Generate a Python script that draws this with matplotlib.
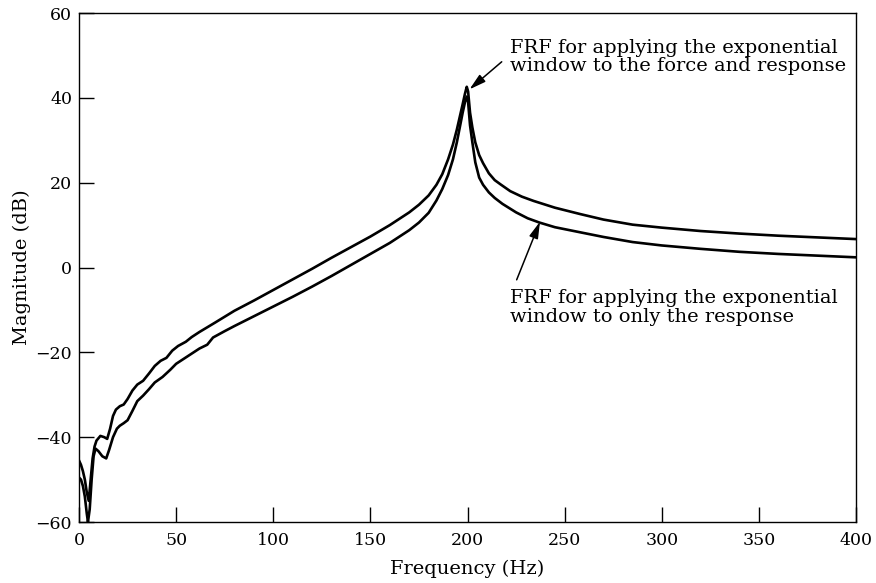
import matplotlib
matplotlib.use("Agg")
import matplotlib.pyplot as plt

# FRF with exponential window on force and response (upper curve)
freq_both = [0, 1, 2, 3, 4, 5, 6, 7, 8, 9, 11, 13, 14.5, 16, 17.5, 19, 21, 23, 25,
             27.5, 30, 33, 36, 39, 42, 45, 48, 51, 55, 58, 62, 66, 70, 75, 80, 90,
             100, 110, 120, 130, 140, 150, 160, 165, 170, 175, 180, 184, 187, 190,
             192.5, 194.5, 196, 197.5, 198.7, 199.6, 200.3, 201.3, 202.5, 204, 206,
             208, 211, 214, 217, 222, 228, 234, 245, 258, 270, 285, 300, 320, 340,
             360, 380, 400]
mag_both = [-45.5, -46.5, -48, -50, -53, -55, -50, -45, -42.2, -40.8, -39.7, -40,
            -40.4, -38, -35, -33.5, -32.7, -32.3, -31, -29, -27.6, -26.7, -25,
            -23.2, -22, -21.3, -19.6, -18.5, -17.5, -16.4, -15.2, -14.1, -13,
            -11.6, -10.2, -7.8, -5.3, -2.8, -0.3, 2.3, 4.8, 7.3, 10.0, 11.5, 13.0,
            14.8, 17.0, 19.5, 22.0, 25.5, 29.0, 32.5, 35.5, 38.5, 41.0, 42.6, 41.5,
            36.5, 33.0, 29.5, 26.5, 24.6, 22.2, 20.6, 19.6, 18.0, 16.7, 15.7, 14.1,
            12.6, 11.3, 10.1, 9.4, 8.6, 8.0, 7.5, 7.1, 6.7]

# FRF with exponential window on the response only (lower curve)
freq_resp = [0, 1, 2, 3, 4, 4.6, 5.5, 6.5, 7.5, 8.5, 10, 12, 14, 15.5, 17.5, 19.5,
             21, 23, 25, 27.5, 30, 33, 36, 39, 43, 47, 50, 54, 57, 62, 66, 69, 75,
             80, 90, 100, 110, 120, 130, 140, 150, 160, 165, 170, 175, 180, 184,
             187, 190, 192.5, 194.5, 196, 197.5, 198.7, 199.6, 200.3, 201.3, 202.5,
             204, 206, 208, 211, 214, 218, 225, 231, 237, 245, 258, 270, 285, 300,
             320, 340, 360, 380, 400]
mag_resp = [-49.5, -50, -51.5, -54, -58, -60, -57, -50, -44.5, -42.7, -43.3,
            -44.5, -45, -43, -40, -38, -37.3, -36.7, -36, -33.8, -31.5, -30.2,
            -28.7, -27.1, -25.8, -24.1, -22.7, -21.5, -20.6, -19.1, -18.2, -16.5,
            -15.0, -13.8, -11.5, -9.2, -6.9, -4.5, -2.0, 0.6, 3.2, 5.8, 7.3, 8.8,
            10.6, 12.9, 15.8, 18.5, 21.8, 25.5, 29.5, 33.0, 36.5, 39.0, 40.3, 39.0,
            33.5, 29.5, 24.8, 21.2, 19.5, 17.7, 16.4, 15.0, 13.0, 11.6, 10.6, 9.5,
            8.3, 7.2, 6.0, 5.2, 4.4, 3.7, 3.2, 2.8, 2.4]

x_ticks = [0, 50, 100, 150, 200, 250, 300, 350, 400]
y_ticks = [-60, -40, -20, 0, 20, 40, 60]

label_both = "FRF for applying the exponential\nwindow to the force and response"
label_resp = "FRF for applying the exponential\nwindow to only the response"

plt.rcParams['font.family'] = ['DejaVu Serif']
plt.rcParams['font.size'] = 12.5

fig = plt.figure(figsize=(8.76, 5.83), dpi=100)
ax = fig.add_axes([0.0902, 0.1046, 0.887, 0.8731])

ax.plot(freq_both, mag_both, color='black', lw=1.9)
ax.plot(freq_resp, mag_resp, color='black', lw=1.9)

ax.set_xlim(0, 400)
ax.set_ylim(-60, 60)
ax.set_xticks(x_ticks)
ax.set_yticks(y_ticks)
ax.tick_params(direction='in', length=11, width=1.0, top=False, right=False)
ax.tick_params(axis='x', pad=7)
ax.tick_params(axis='y', pad=5)
for s in ax.spines.values():
    s.set_linewidth(1.0)

ax.set_xlabel("Frequency (Hz)", fontsize=14, labelpad=8)
ax.set_ylabel("Magnitude (dB)", fontsize=14, labelpad=3)

arrow = dict(arrowstyle='-|>,head_length=0.8,head_width=0.22', color='black',
             lw=1.1, shrinkA=0, shrinkB=0)
ax.text(222, 49.6, label_both, ha='left', va='center', fontsize=14,
        linespacing=1.05)
ax.annotate("", xy=(201.0, 42.0), xytext=(217.6, 48.5), arrowprops=arrow)
ax.text(222, -9.4, label_resp, ha='left', va='center', fontsize=14,
        linespacing=1.05)
ax.annotate("", xy=(237.3, 10.8), xytext=(225.3, -2.9), arrowprops=arrow)

fig.savefig("out.png", dpi=100)
